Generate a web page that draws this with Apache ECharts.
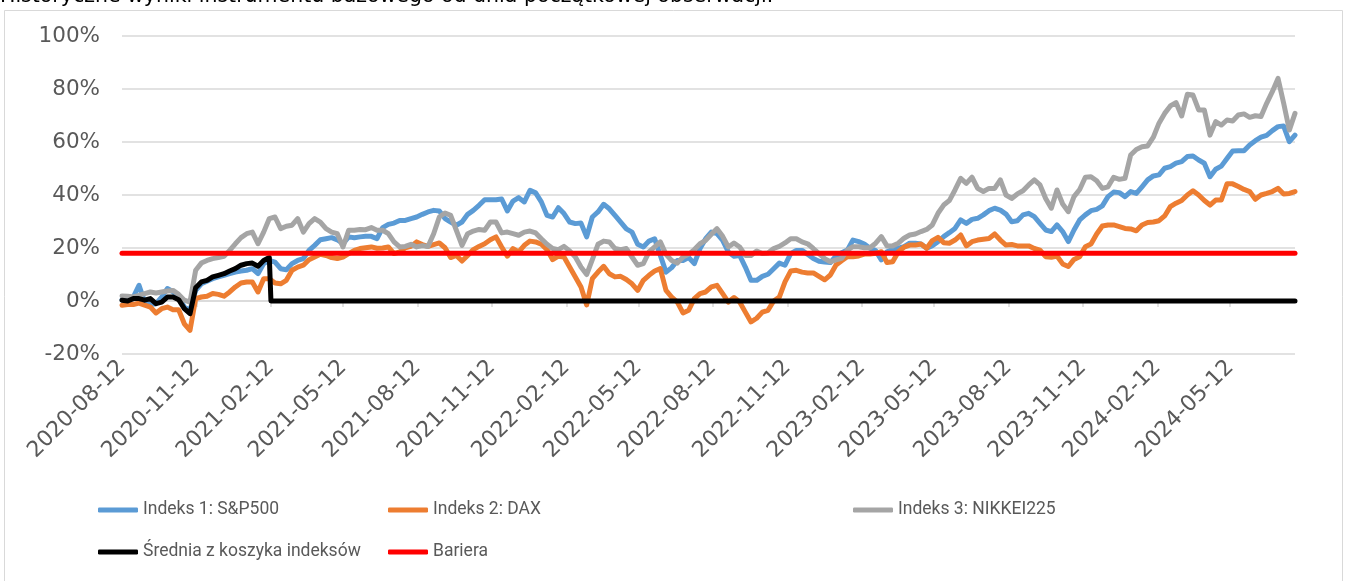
<!DOCTYPE html>
<html>
<head>
<meta charset="utf-8">
<script src="https://cdn.jsdelivr.net/npm/echarts@6/dist/echarts.min.js"></script>
<style>
html, body { margin: 0; padding: 0; background: #fff; }
#chart { width: 1349px; height: 581px; }
</style>
</head>
<body>
<div id="chart"></div>
<script>
var startDate = '2020-08-12';
var stepDays = 7;

var sp500 = [
    0.5, 0.9, 1.5, 5.9, -0.4, -1.3, -1.0, 1.5, 4.7, 3.5,
    1.5, -2.3, -3.5, 4.0, 6.5, 7.5, 8.4, 9.1, 9.7, 10.3,
    10.9, 11.3, 11.6, 12.2, 10.3, 14.1, 15.3, 14.7, 12.2, 11.8,
    14.1, 15.3, 16.0, 19.1, 21.0, 23.1, 23.5, 23.9, 23.1, 21.6,
    24.2, 23.9, 24.2, 24.4, 24.4, 23.5, 27.7, 28.9, 29.4, 30.4,
    30.4, 31.1, 31.7, 32.7, 33.6, 34.2, 34.0, 31.1, 29.8, 28.6,
    29.8, 32.7, 34.2, 36.1, 38.2, 38.2, 38.2, 38.5, 34.0, 37.7,
    39.0, 37.4, 41.8, 40.8, 37.4, 32.3, 31.7, 35.2, 33.0, 29.8,
    29.2, 29.4, 24.2, 31.7, 33.6, 36.5, 34.8, 32.3, 29.8, 27.2,
    26.0, 21.4, 20.4, 22.6, 23.5, 17.2, 10.9, 12.6, 15.3, 15.3,
    16.4, 14.1, 19.8, 23.5, 26.0, 25.4, 22.9, 18.5, 16.9, 17.2,
    12.8, 7.8, 7.8, 9.3, 10.1, 12.2, 14.3, 13.5, 17.9, 19.1,
    19.1, 17.6, 16.0, 15.0, 14.7, 14.5, 17.0, 18.2, 19.2, 23.0,
    22.4, 21.5, 19.9, 19.0, 15.5, 18.6, 19.5, 19.9, 20.5, 21.8,
    21.8, 21.5, 19.9, 20.9, 22.4, 24.3, 25.8, 27.4, 30.6, 29.3,
    30.8, 31.2, 32.5, 34.1, 35.0, 34.3, 32.8, 29.9, 30.3, 32.5,
    33.1, 31.8, 29.3, 26.8, 26.2, 28.7, 26.2, 22.4, 26.8, 30.6,
    32.5, 34.1, 34.6, 35.9, 39.4, 41.1, 40.9, 39.4, 41.3, 40.6,
    43.1, 45.7, 47.2, 47.6, 50.1, 50.7, 52.0, 52.6, 54.5, 54.7,
    53.2, 52.0, 46.9, 49.7, 50.9, 53.8, 56.6, 56.7, 56.7, 58.9,
    60.5, 61.8, 62.5, 64.3, 65.8, 66.0, 60.1, 62.6
];

var dax = [
    -1.6, -1.3, -1.3, -0.8, -1.6, -2.3, -4.5, -2.9, -2.3, -3.3,
    -3.3, -8.6, -11.1, 0.9, 1.5, 1.8, 2.8, 2.5, 1.8, 3.4,
    5.3, 6.8, 7.2, 7.2, 3.4, 8.4, 8.4, 6.8, 6.5, 7.8,
    11.6, 12.8, 13.5, 15.6, 16.6, 17.6, 17.2, 16.4, 16.0, 16.6,
    17.9, 19.1, 19.8, 20.1, 20.4, 19.9, 20.0, 20.4, 17.9, 18.5,
    20.1, 20.6, 22.3, 21.3, 20.6, 21.3, 21.9, 20.1, 16.4, 17.2,
    15.1, 17.2, 19.4, 20.6, 21.6, 23.1, 24.2, 20.4, 16.9, 19.8,
    18.5, 21.0, 22.6, 22.3, 21.4, 19.4, 15.6, 16.9, 16.6, 12.8,
    9.1, 5.3, -1.5, 8.4, 10.9, 13.1, 10.3, 9.1, 9.3, 8.1,
    6.5, 4.0, 7.8, 9.7, 11.3, 12.2, 4.0, 1.5, -0.4, -4.5,
    -3.5, 0.9, 2.8, 3.4, 5.3, 5.9, 2.8, -0.4, 1.3, -0.4,
    -4.2, -7.9, -6.5, -4.2, -3.5, 0.0, 1.5, 7.2, 11.3, 11.6,
    10.9, 10.6, 10.6, 9.3, 8.0, 9.8, 13.6, 15.2, 16.7, 16.7,
    17.0, 17.7, 17.7, 18.0, 18.6, 14.5, 14.8, 18.6, 20.3, 21.1,
    21.1, 21.5, 19.9, 22.8, 24.0, 22.0, 21.8, 23.0, 24.9, 20.8,
    22.4, 23.0, 23.3, 23.6, 25.3, 23.0, 21.1, 21.3, 20.8, 20.8,
    20.8, 19.8, 19.2, 16.7, 16.5, 17.0, 14.0, 13.0, 15.7, 16.7,
    20.5, 21.5, 25.3, 28.3, 28.7, 28.7, 28.1, 27.4, 27.2, 26.5,
    28.7, 29.6, 29.8, 30.3, 32.1, 35.6, 36.9, 37.9, 40.0, 41.6,
    40.0, 37.9, 36.2, 38.1, 38.1, 44.2, 44.2, 43.2, 42.1, 41.3,
    38.4, 40.0, 40.6, 41.3, 42.5, 40.4, 40.6, 41.3
];

var nikkei = [
    1.9, 1.8, 1.5, 2.1, 2.8, 3.4, 3.0, 3.4, 3.8, 4.0,
    2.5, 0.3, -0.4, 11.6, 14.3, 15.3, 16.0, 16.4, 16.9, 19.1,
    21.6, 23.9, 25.4, 26.0, 21.6, 26.0, 31.1, 31.7, 27.3, 28.2,
    28.6, 31.1, 26.0, 29.2, 31.1, 29.8, 27.3, 26.0, 25.4, 20.4,
    26.7, 26.7, 27.0, 26.9, 27.7, 26.7, 26.7, 25.4, 22.3, 20.4,
    20.6, 21.4, 20.4, 20.9, 20.6, 25.4, 31.7, 33.2, 32.3, 26.7,
    21.0, 25.4, 26.4, 27.0, 26.7, 29.8, 29.8, 25.7, 26.0, 25.4,
    24.8, 26.0, 26.4, 25.7, 23.5, 21.4, 19.8, 19.4, 20.6, 18.9,
    16.6, 12.8, 10.0, 15.6, 21.4, 22.6, 22.3, 19.8, 19.4, 19.8,
    16.6, 13.5, 14.1, 18.5, 20.4, 22.3, 17.6, 15.3, 14.3, 16.6,
    17.6, 19.4, 21.6, 22.9, 25.2, 27.3, 24.4, 20.4, 21.9, 20.4,
    17.2, 17.2, 18.9, 17.9, 18.1, 19.8, 20.6, 21.9, 23.5, 23.5,
    22.3, 21.6, 19.8, 17.9, 16.0, 14.8, 15.5, 16.1, 19.2, 20.5,
    20.5, 20.1, 20.1, 21.8, 24.3, 20.8, 20.8, 21.8, 23.7, 24.9,
    25.3, 26.2, 27.0, 28.7, 33.1, 36.2, 37.9, 41.9, 46.3, 44.4,
    46.7, 42.5, 41.3, 42.5, 42.5, 45.7, 40.0, 38.7, 40.4, 41.6,
    43.8, 45.7, 43.8, 38.7, 35.0, 41.9, 36.6, 33.7, 39.4, 42.1,
    46.7, 46.9, 45.4, 42.5, 43.1, 46.7, 45.9, 46.3, 55.1, 57.2,
    58.2, 58.5, 61.8, 67.1, 70.8, 73.6, 74.9, 69.8, 78.0, 77.7,
    72.1, 72.1, 62.6, 67.7, 66.4, 68.3, 67.9, 70.2, 70.6, 69.3,
    69.9, 69.6, 74.6, 79.0, 84.0, 74.6, 64.5, 70.8
];

// basket average, weekly until the early redemption check on 2021-02-12, then 0 to the end
var basket = [
    0.3, 0.0, 0.9, 0.9, 0.3, 0.9, -1.0, -0.4, 1.5, 1.5,
    0.5, -2.9, -4.8, 5.0, 7.2, 7.8, 9.1, 9.7, 10.3, 11.3,
    12.2, 13.5, 14.1, 14.3, 13.1, 15.3, 16.4
];
var knockOutDate = '2021-02-12';
var knockOutLevel = 17.0;
var afterKnockOut = 0;

var barrierLevel = 18;

var tickLabels = [
    '2020-08-12','2020-11-12','2021-02-12','2021-05-12','2021-08-12','2021-11-12','2022-02-12','2022-05-12',
    '2022-08-12','2022-11-12','2023-02-12','2023-05-12','2023-08-12','2023-11-12','2024-02-12','2024-05-12'
];

var seriesNames = ['Indeks 1: S&P500', 'Indeks 2: DAX', 'Indeks 3: NIKKEI225', 'Średnia z koszyka indeksów', 'Bariera'];
var seriesColors = ['#5b9bd5', '#ed7d31', '#a5a5a5', '#000000', '#ff0000'];

// day number since epoch (UTC), used as the x value
function dayNum(s) {
    var p = s.split('-');
    return Date.UTC(+p[0], +p[1] - 1, +p[2]) / 86400000;
}

function dayLabel(v) {
    var d = new Date(Math.round(v) * 86400000);
    var m = d.getUTCMonth() + 1, dd = d.getUTCDate();
    return d.getUTCFullYear() + '-' + (m < 10 ? '0' : '') + m + '-' + (dd < 10 ? '0' : '') + dd;
}

function weekly(vs) {
    var x0 = dayNum(startDate);
    var out = [];
    for (var i = 0; i < vs.length; i++) {
        out.push([x0 + i * stepDays, vs[i]]);
    }
    return out;
}

var xMin = dayNum(startDate);
var xMax = xMin + (sp500.length - 1) * stepDays;
var ticks = tickLabels.map(dayNum);

var basketData = weekly(basket);
basketData.push([dayNum(knockOutDate), knockOutLevel]);
basketData.push([dayNum(knockOutDate), afterKnockOut]);
basketData.push([xMax, afterKnockOut]);

var barrierData = [[xMin, barrierLevel], [xMax, barrierLevel]];

var chart = echarts.init(document.getElementById('chart'));

var axisFont = 'DejaVu Sans';
var legendFont = 'Roboto';

function lineSeries(i, data) {
    return {
        name: seriesNames[i],
        type: 'line',
        xAxisIndex: 0,
        data: data,
        symbol: 'none',
        animation: false,
        lineStyle: { color: seriesColors[i], width: 5, cap: 'round', join: 'round' },
        itemStyle: { color: seriesColors[i] }
    };
}

function legendAt(i, left, top) {
    return {
        data: [seriesNames[i]],
        left: left,
        top: top,
        padding: 0,
        icon: 'roundRect',
        itemWidth: 40,
        itemHeight: 5,
        selectedMode: false,
        textStyle: { fontFamily: legendFont, fontSize: 17.5, color: '#595959', lineHeight: 22 }
    };
}

chart.setOption({
    backgroundColor: '#ffffff',
    title: {
        text: 'Historyczne wyniki instrumentu bazowego od dnia początkowej obserwacji:',
        left: 0,
        top: -14,
        padding: 0,
        textStyle: { fontFamily: axisFont, fontSize: 20.5, fontWeight: 'normal', color: '#000000' }
    },
    graphic: [{
        type: 'rect',
        shape: { x: 4.5, y: 10.5, width: 1338, height: 590 },
        style: { fill: null, stroke: '#d9d9d9', lineWidth: 1 },
        silent: true
    }],
    grid: { left: 122, right: 54, top: 36, bottom: 227, containLabel: false },
    legend: [
        legendAt(0, 98, 499),
        legendAt(1, 388, 499),
        legendAt(2, 853, 499),
        legendAt(3, 98, 541),
        legendAt(4, 388, 541)
    ],
    xAxis: [{
        type: 'value',
        position: 'bottom',
        min: xMin,
        max: xMax,
        axisLine: { show: false, onZero: false },
        axisTick: { show: false },
        splitLine: { show: false },
        axisLabel: {
            customValues: ticks,
            rotate: 45,
            margin: 10,
            hideOverlap: false,
            showMinLabel: true,
            showMaxLabel: true,
            color: '#595959',
            fontFamily: axisFont,
            fontSize: 22,
            formatter: dayLabel
        }
    }, {
        type: 'value',
        position: 'bottom',
        min: xMin,
        max: xMax,
        axisLine: { show: true, onZero: true, lineStyle: { color: '#d9d9d9', width: 1.5 } },
        axisTick: { show: true, customValues: ticks, length: 6, lineStyle: { color: '#d9d9d9', width: 1.5 } },
        axisLabel: { show: false },
        splitLine: { show: false }
    }],
    yAxis: {
        type: 'value',
        min: -20,
        max: 100,
        interval: 20,
        axisLine: { show: false },
        axisTick: { show: false },
        splitLine: { lineStyle: { color: '#d9d9d9', width: 1.5 } },
        axisLabel: {
            formatter: '{value}%',
            margin: 22,
            color: '#595959',
            fontFamily: axisFont,
            fontSize: 21.5
        }
    },
    series: [
        lineSeries(0, weekly(sp500)),
        lineSeries(1, weekly(dax)),
        lineSeries(2, weekly(nikkei)),
        lineSeries(3, basketData),
        lineSeries(4, barrierData)
    ]
});
</script>
</body>
</html>
